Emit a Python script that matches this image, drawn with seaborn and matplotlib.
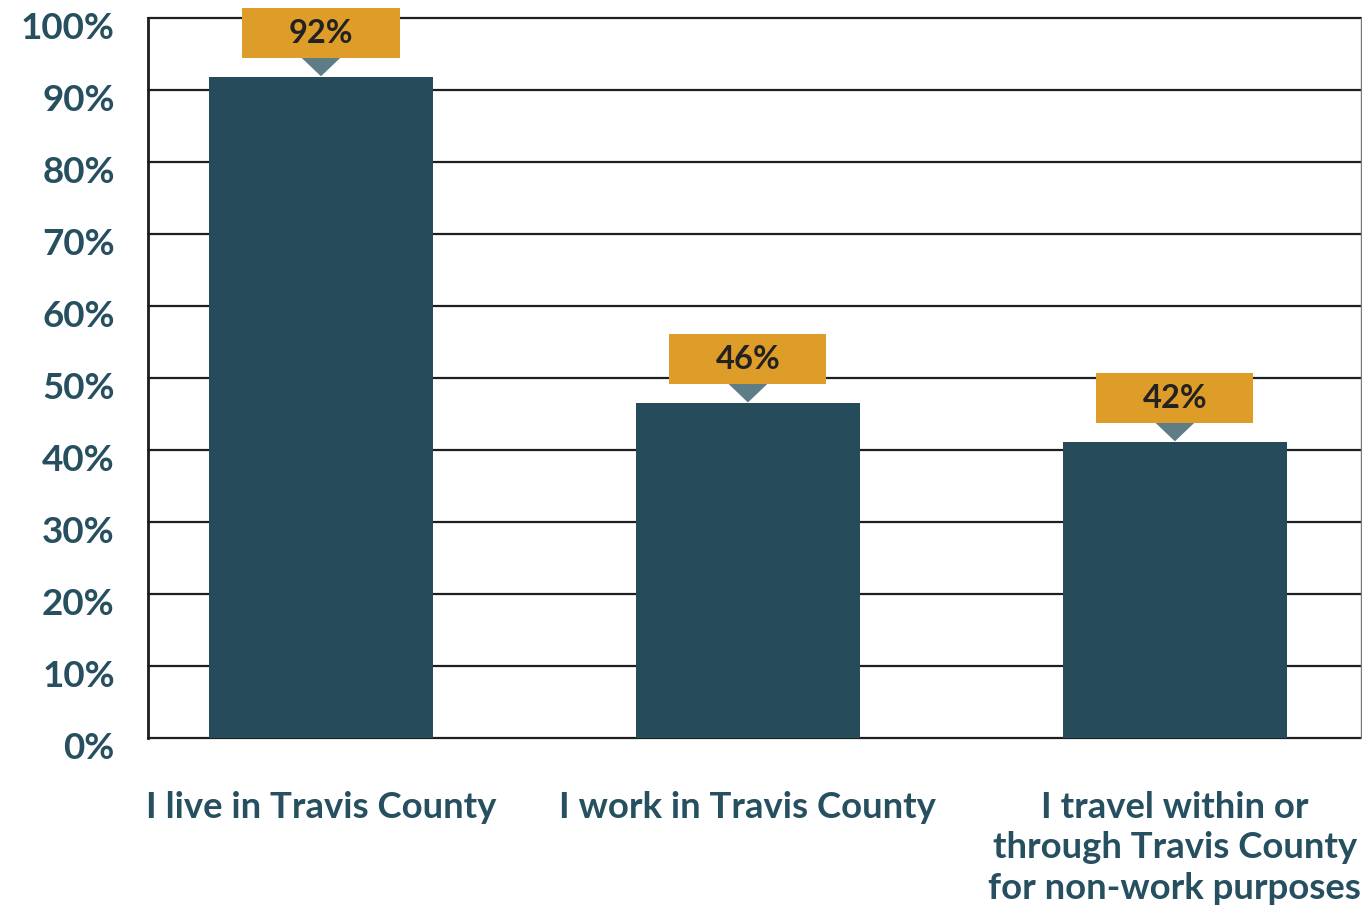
import numpy as np
import pandas as pd
import matplotlib
matplotlib.use("Agg")
import matplotlib.pyplot as plt
import matplotlib.transforms as mtransforms
import seaborn as sns
from matplotlib.patches import Rectangle, Polygon

# Chart data
categories = ["I live in Travis County",
              "I work in Travis County",
              "I travel within or\nthrough Travis County\nfor non-work purposes"]
values = [91.8, 46.5, 41.1]
value_labels = ["92%", "46%", "42%"]
y_ticks = [0, 10, 20, 30, 40, 50, 60, 70, 80, 90, 100]

BAR = "#264b5a"
ORANGE = "#de9c28"
POINTER = "#5f7d87"
TEXT = "#264f5f"

sns.set_style("white")
plt.rcParams['font.family'] = ['Lato', 'DejaVu Sans']

df = pd.DataFrame({"category": categories, "value": values})

fig = plt.figure(figsize=(13.62, 9.13), dpi=100)
ax = fig.add_axes([0.1087, 0.1917, 0.8906, 0.7886])

sns.barplot(data=df, x="category", y="value", color=BAR, width=0.525,
            saturation=1, linewidth=0, edgecolor=BAR, ax=ax, zorder=3)

ax.set_ylim(0, 100)
ax.set_xlim(-0.405, 2.436)
ax.set_yticks(y_ticks)
ax.set_yticklabels([f"{t}%" for t in y_ticks])
ax.set_xlabel("")
ax.set_ylabel("")

# gridlines
for t in y_ticks:
    ax.axhline(t, color="#1e1e1e", lw=1.6, zorder=1, clip_on=False)

for side in ["top", "bottom"]:
    ax.spines[side].set_visible(False)
ax.spines["left"].set_color("#1e1e1e")
ax.spines["left"].set_linewidth(2)
ax.spines["right"].set_color("#777777")
ax.spines["right"].set_linewidth(1)

ax.tick_params(axis="y", length=0, pad=24, labelsize=26.5, labelcolor=TEXT)
ax.tick_params(axis="x", length=0, pad=38, labelsize=26.3, labelcolor=TEXT)
for lbl in ax.get_yticklabels() + ax.get_xticklabels():
    lbl.set_fontweight("bold")
for lbl in ax.get_xticklabels():
    lbl.set_linespacing(1.28)

# y labels sit a little below their gridlines in the original
shift = mtransforms.ScaledTranslation(0, -8 / 100, fig.dpi_scale_trans)
for lbl in ax.get_yticklabels():
    lbl.set_transform(lbl.get_transform() + shift)

# value callouts
box_w = 0.368
tri_w = 0.046
for i, (v, lab) in enumerate(zip(values, value_labels)):
    tri = Polygon([[i - tri_w, v + 2.7], [i + tri_w, v + 2.7], [i, v + 0.1]],
                  closed=True, color=POINTER, zorder=4, clip_on=False, lw=0)
    ax.add_patch(tri)
    box = Rectangle((i - box_w / 2, v + 2.7), box_w, 6.95, color=ORANGE,
                    zorder=5, clip_on=False, lw=0)
    ax.add_patch(box)
    ax.text(i, v + 2.7 + 3.4, lab, ha="center", va="center", fontsize=23.5,
            fontweight="bold", color="#222222", zorder=6)

fig.savefig("out.png", dpi=100)
